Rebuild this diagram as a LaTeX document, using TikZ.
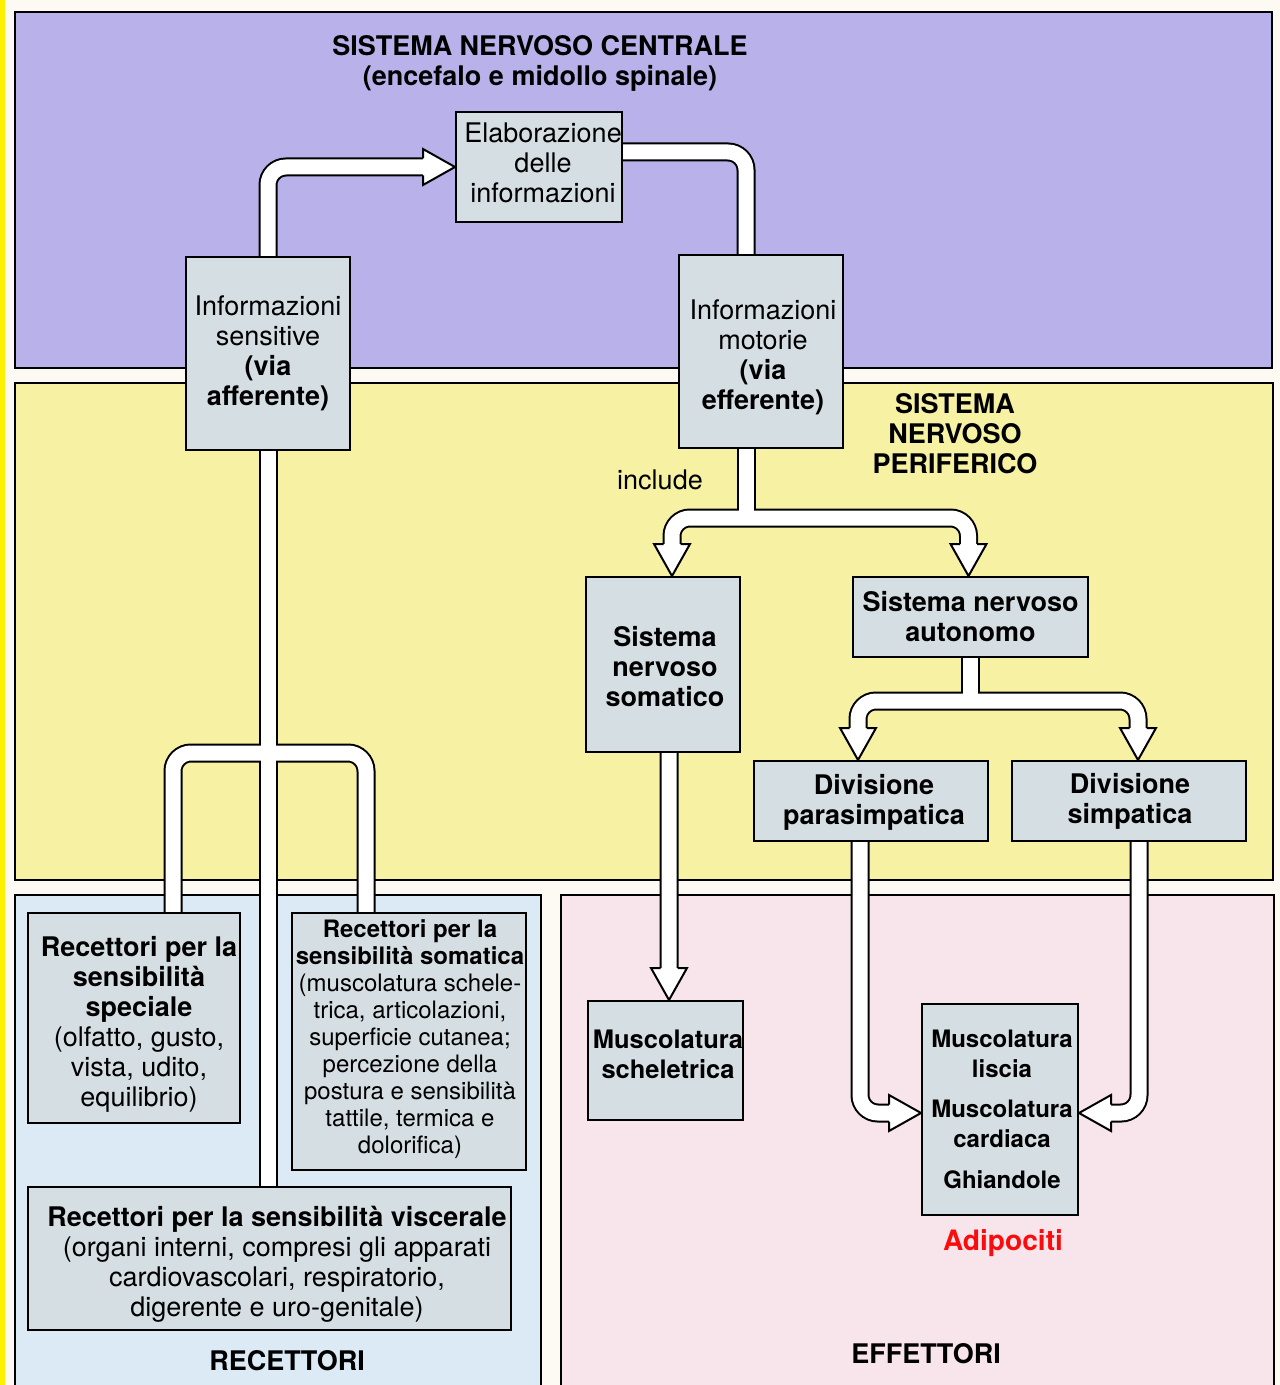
\documentclass[tikz,border=0pt]{standalone}
\usepackage{fontspec}
\setmainfont{TeX Gyre Heros}
\usetikzlibrary{calc}
\pgfdeclarelayer{bg}
\pgfdeclarelayer{arr}
\pgfsetlayers{bg,arr,main}
\definecolor{purp}{RGB}{184,177,234}
\definecolor{yel}{RGB}{247,242,163}
\definecolor{blu}{RGB}{219,234,245}
\definecolor{pnk}{RGB}{247,229,235}
\definecolor{boxc}{RGB}{213,222,227}
\definecolor{paper}{RGB}{252,250,242}
\definecolor{stripe}{RGB}{255,240,0}
\definecolor{redt}{RGB}{250,12,12}
\newcommand{\fsA}{\fontsize{15.37pt}{17.07pt}\selectfont}
\newcommand{\fsB}{\fontsize{13.66pt}{15.37pt}\selectfont}
\newcommand{\fsC}{\fontsize{13.66pt}{17.07pt}\selectfont}
\newcommand{\fsD}{\fontsize{14.5pt}{17.07pt}\selectfont}
\newcommand{\fhead}[2]{\begin{scope}[shift={#1},rotate=#2]\path[headst] (-32,8.5) -- (-32,18) -- (0,0) -- (-32,-18) -- (-32,-8.5);\end{scope}}
% box: name, x, y, w, h, text x, text y, font, text
\newcommand{\bx}[9]{\node[box, sz={#4}{#5}] (#1) at (#2,#3) {}; \node[txt, font=#8] (#1T) at (#6,#7) {#9};}
\newcommand{\myshafts}[1]{%
 \draw[#1] (sens.north) |- ($(elab.west)+(-32,0)$);
 \draw[#1] ($(elab.east)+(0,-15)$) -| ($(mot.north)+(-15,0)$);
 \draw[#1] ($(mot.south)+(-15,0)$) -- ($(mot.south)+(-15,69)$);
 \draw[#1] ($(som.north)+(9,-32)$) |- ($(mot.south)+(-15,69)$) -| ($(aut.north)+(-2,-32)$);
 \draw[#1] (aut.south) -- ($(aut.south)+(0,43)$);
 \draw[#1] ($(para.north)+(-13,-32)$) |- ($(aut.south)+(0,43)$) -| ($(simp.north)+(9,-32)$);
 \draw[#1] ($(som.south)+(6,0)$) -- ($(skel.north)+(3.5,-32)$);
 \draw[#1] ($(para.south)+(-11,0)$) |- ($(eff.west)+(-32,3.5)$);
 \draw[#1] ($(simp.south)+(10,0)$) |- ($(eff.east)+(32,3.5)$);
 \draw[#1] (sens.south) -- (sens.south |- visc.north);
 \draw[#1] ($(spec.north)+(39,0)$) |- ($(sens.south)+(0,302)$) -| ($(somr.north)+(-43,0)$);
}
\begin{document}
\begin{tikzpicture}[x=0.02cm,y=-0.02cm,
  box/.style={draw=black, line width=0.04cm, fill=boxc, inner sep=0pt},
  txt/.style={inner sep=0pt, align=center, text=black},
  sz/.style 2 args={minimum width=#1*0.02cm, minimum height=#2*0.02cm},
  lab/.style={inner sep=0pt, align=center, font=\fsA\bfseries},
  region/.style={draw=black, line width=0.04cm},
  so/.style={draw=black, line width=0.38cm, rounded corners=0.36cm},
  si/.style={draw=white, line width=0.30cm, rounded corners=0.36cm},
  headst/.style={fill=white, draw=black, line width=0.04cm}]
\useasboundingbox (0,0) rectangle (1280,1385);
\begin{pgfonlayer}{bg}
\fill[paper] (0,0) rectangle (1280,1385);
\fill[stripe] (0,0) rectangle (5,1385);
\filldraw[region, fill=purp] (15,12) rectangle (1272,368);
\filldraw[region, fill=yel] (15,383) rectangle (1273,880);
\filldraw[region, fill=blu] (15,895) rectangle (541,1420);
\filldraw[region, fill=pnk] (561,895) rectangle (1274,1420);
\end{pgfonlayer}
% boxes
\bx{elab}{539}{167}{166}{110}{543}{162.5}{\fsA}{Elaborazione\\delle\\informazioni}
\bx{sens}{268}{353.5}{164}{193}{268}{353}{\fsA}{Informazioni\\sensitive\\\textbf{(via}\\\textbf{afferente)}}
\bx{mot}{761}{351.5}{164}{193}{763}{357}{\fsA}{Informazioni\\motorie\\\textbf{(via}\\\textbf{efferente)}}
\bx{som}{663}{664.5}{154}{175}{665}{667}{\fsA\bfseries}{Sistema\\nervoso\\somatico}
\bx{aut}{970.5}{617}{235}{80}{970.5}{617}{\fsA\bfseries}{Sistema nervoso\\autonomo}
\bx{para}{871}{801}{234}{80}{874}{802}{\fsA\bfseries}{Divisione\\parasimpatica}
\bx{simp}{1129}{801}{234}{80}{1130}{801}{\fsA\bfseries}{Divisione\\simpatica}
\bx{skel}{665.5}{1060.5}{155}{119}{668}{1054.5}{\fsD\bfseries}{Muscolatura\\scheletrica}
\bx{eff}{1000}{1109.5}{156}{211}{1002}{1109.5}{\fsC\bfseries}{Muscolatura\\liscia\\[0.2cm]Muscolatura\\cardiaca\\[0.22cm]Ghiandole}
\bx{spec}{134}{1018}{212}{210}{139}{1024}{\fsA}{\textbf{Recettori per la}\\\textbf{sensibilità}\\\textbf{speciale}\\(olfatto, gusto,\\vista, udito,\\equilibrio)}
\bx{somr}{409}{1041.5}{234}{257}{410}{1039.5}{\fsB}{\textbf{Recettori per la}\\\textbf{sensibilità somatica}\\(muscolatura schele-\\trica, articolazioni,\\superficie cutanea;\\percezione della\\postura e sensibilità\\tattile, termica e\\dolorifica)}
\bx{visc}{269.5}{1258.5}{483}{143}{277}{1264}{\fsA}{\textbf{Recettori per la sensibilità viscerale}\\(organi interni, compresi gli apparati\\cardiovascolari, respiratorio,\\digerente e uro-genitale)}
% labels
\node[lab] (snc) at (540,63.5) {SISTEMA NERVOSO CENTRALE\\(encefalo e midollo spinale)};
\node[lab] (snp) at (955,433.5) {SISTEMA\\NERVOSO\\PERIFERICO};
\node[inner sep=0pt, font=\fsA] (inc) at (660,480) {include};
\node[inner sep=0pt, font=\fontsize{16pt}{18pt}\selectfont\bfseries, text=redt] (adi) at (1003,1243.5) {Adipociti};
\node[lab] (rec) at (287,1361) {RECETTORI};
\node[lab] (effl) at (926,1354) {EFFETTORI};
% connectors
\begin{pgfonlayer}{arr}
\myshafts{so}
\myshafts{si}
\fhead{(elab.west)}{0}
\fhead{($(som.north)+(9,0)$)}{-90}
\fhead{($(aut.north)+(-2,0)$)}{-90}
\fhead{($(para.north)+(-13,0)$)}{-90}
\fhead{($(simp.north)+(9,0)$)}{-90}
\fhead{($(skel.north)+(3.5,0)$)}{-90}
\fhead{($(eff.west)+(0,3.5)$)}{0}
\fhead{($(eff.east)+(0,3.5)$)}{180}
\end{pgfonlayer}
\end{tikzpicture}
\end{document}
